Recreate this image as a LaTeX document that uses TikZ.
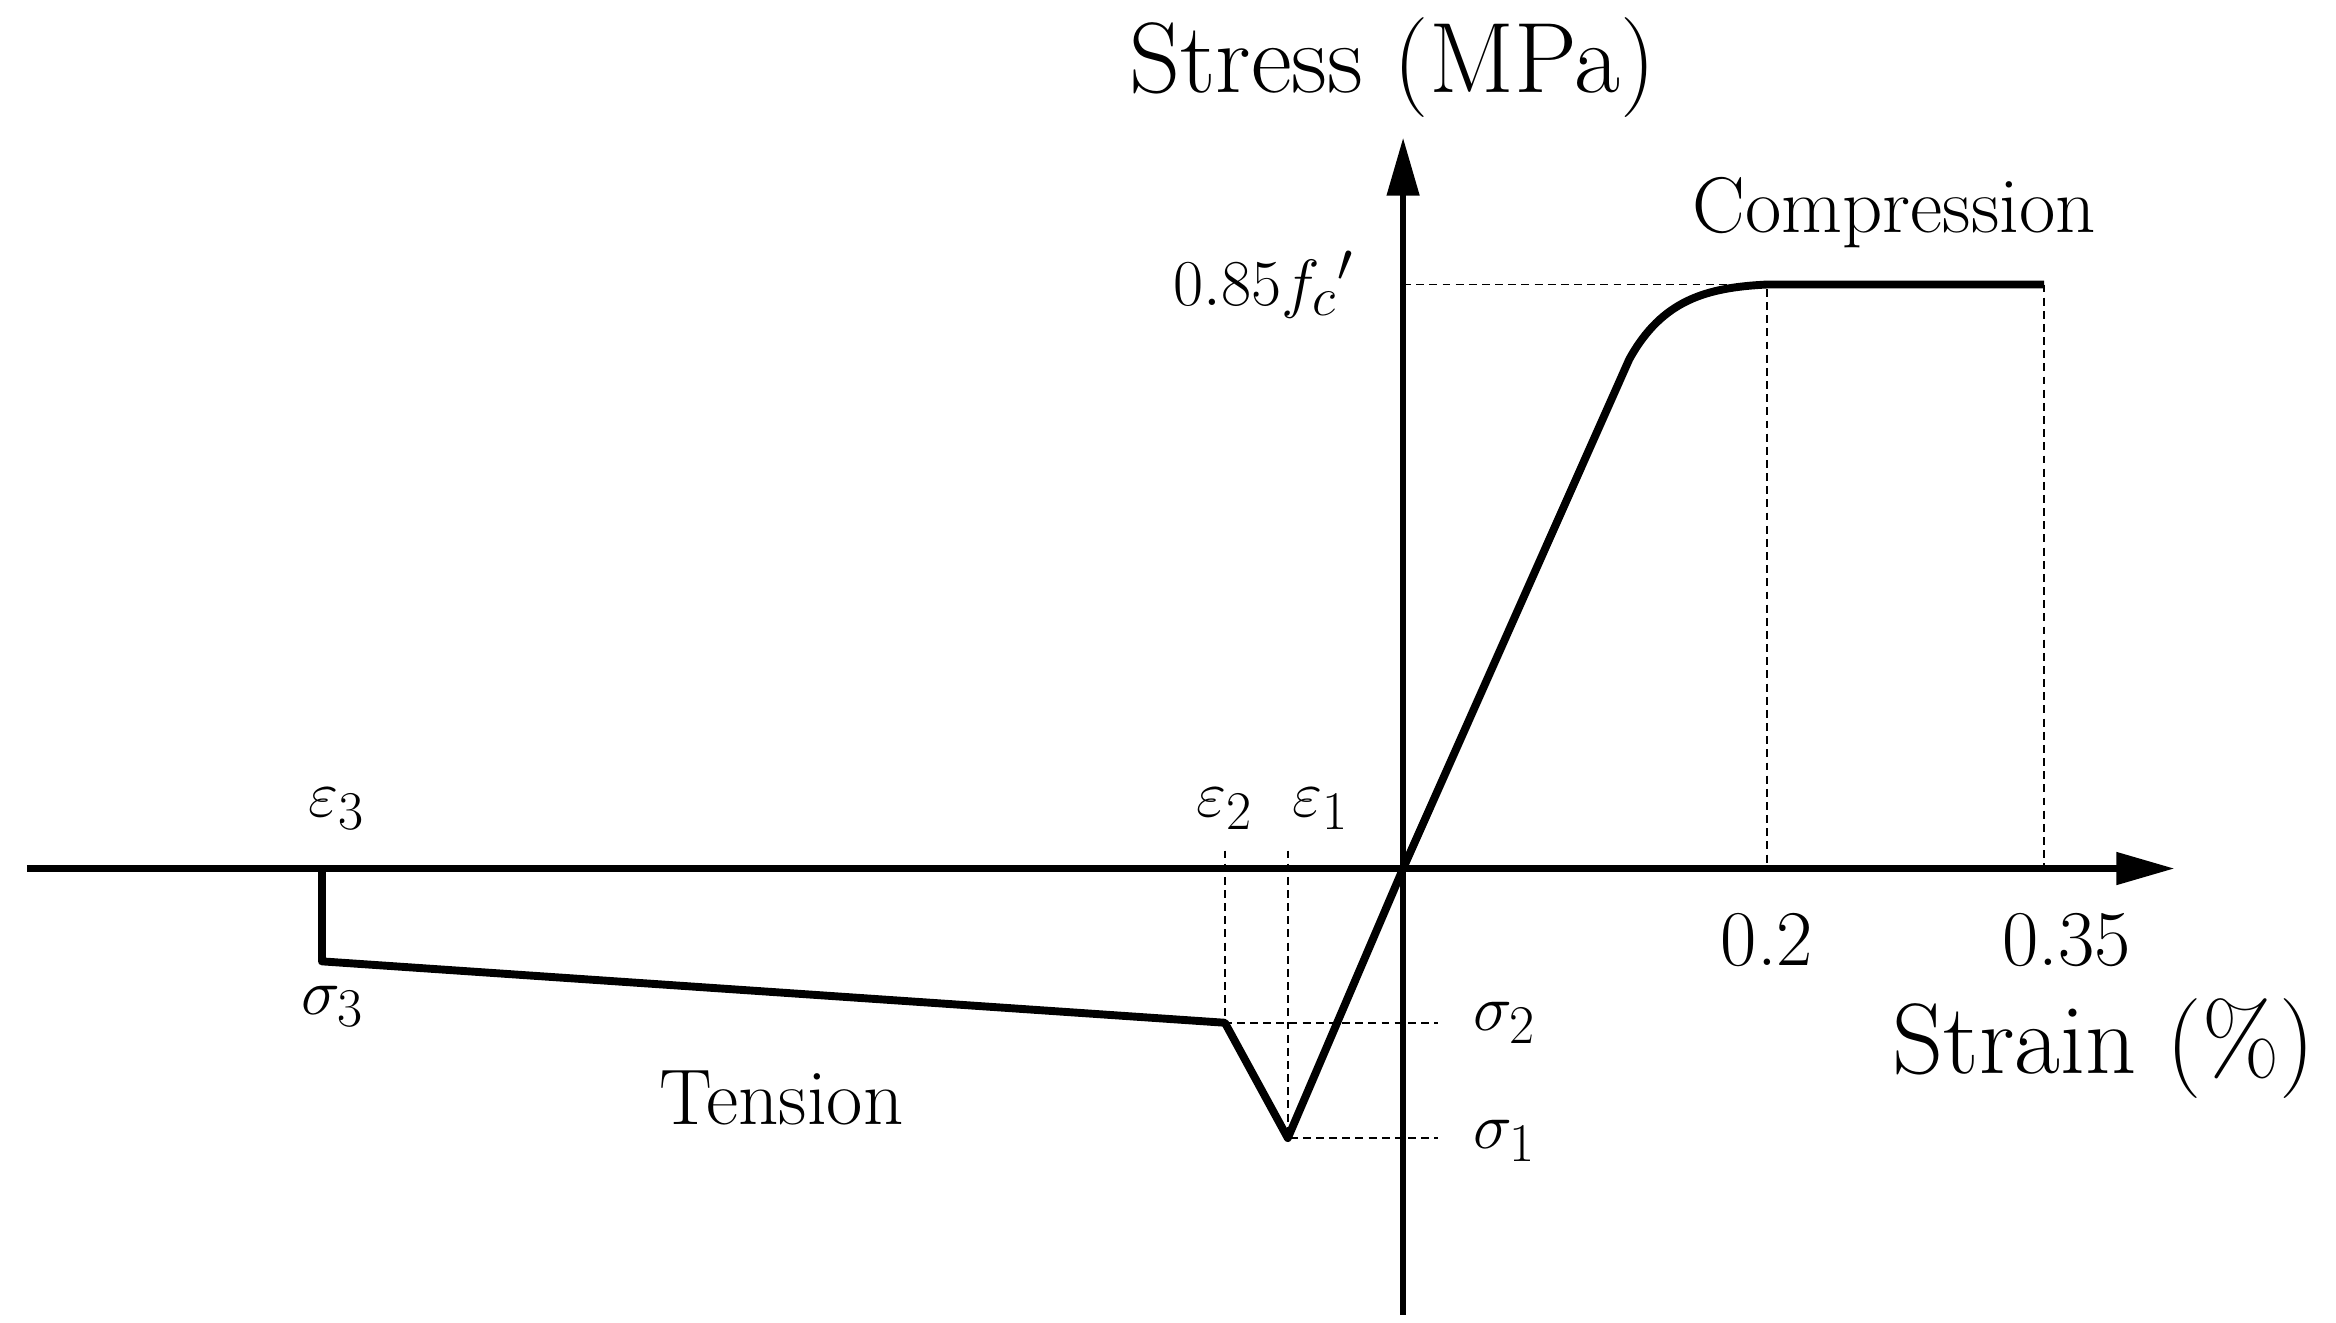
\documentclass[tikz,border=0pt]{standalone}
\usepackage{amsmath}
\usetikzlibrary{arrows.meta}
\begin{document}
\begin{tikzpicture}[x=0.02cm,y=-0.02cm,
  axis/.style={line width=2.3pt,-{Triangle[length=22pt,width=12pt]}},
  curve/.style={line width=3pt,line join=round},
  guide/.style={line width=0.6pt,dash pattern=on 3pt off 2pt},
  big/.style={font=\fontsize{38}{40}\selectfont},
  lab/.style={font=\fontsize{30}{34}\selectfont}]
\useasboundingbox (0,0) rectangle (1560,883);
\coordinate (o) at (937,580);
\coordinate (yb) at (937,878); \coordinate (yt) at (937,92);
\coordinate (xl) at (18,580); \coordinate (xr) at (1452,580);
\coordinate (p3) at (215,580); \coordinate (q3) at (215,642);
\coordinate (p2) at (818,683); \coordinate (p1) at (860,760);
\coordinate (pk) at (1180,190); \coordinate (pe) at (1365,190);
\coordinate (yk) at (937,190);
\draw[guide] (yk) -- (pk) -- (1180,580);
\draw[guide] (pe) -- (1365,580);
\draw[guide] (818,568) -- (p2) -- (960,683);
\draw[guide] (860,568) -- (p1) -- (960,760);
\draw[axis] (yb) -- (yt);
\draw[axis] (xl) -- (xr);
\draw[curve] (p3) -- (q3) -- (p2) -- (p1) -- (o) -- (1088,240) .. controls (1110,200) and (1140,192) .. (pk) -- (pe);
\node[big] (st) at (930,45) {Stress (MPa)};
\node[big] (sn) at (1405,700) {Strain (\%)};
\node[lab] (cm) at (1265,142) {Compression};
\node[lab] (te) at (522,733) {Tension};
\node[lab,anchor=east] (fc) at (910,190) {$0.85f_c{}'$};
\node[lab] (e3) at (225,540) {$\varepsilon_3$};
\node[lab] (e2) at (818,540) {$\varepsilon_2$};
\node[lab] (e1) at (882,540) {$\varepsilon_1$};
\node[lab] (s3) at (222,672) {$\sigma_3$};
\node[lab] (s2) at (1005,683) {$\sigma_2$};
\node[lab] (s1) at (1005,762) {$\sigma_1$};
\node[lab] (t2) at (1180,628) {0.2};
\node[lab] (t35) at (1380,628) {0.35};
\end{tikzpicture}
\end{document}
